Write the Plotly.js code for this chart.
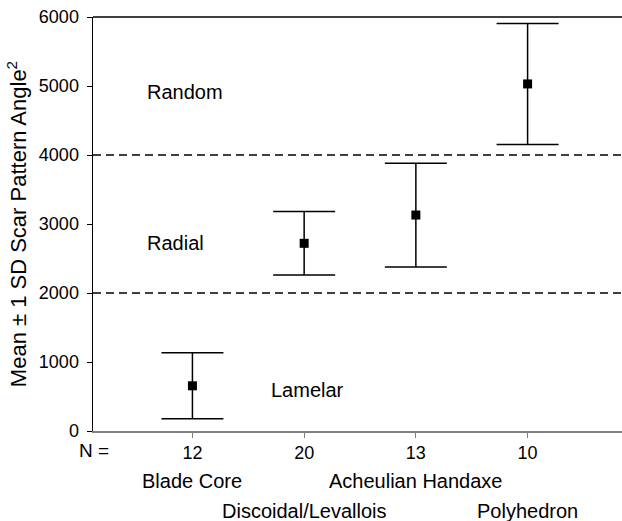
<!DOCTYPE html>
<html>
<head>
<meta charset="utf-8">
<script src="https://cdn.plot.ly/plotly-3.0.1.min.js"></script>
<style>html,body{margin:0;padding:0;background:#fff;}#chart{width:622px;height:521px;}</style>
</head>
<body>
<div id="chart"></div>
<script>
const categories = ["Blade Core", "Discoidal/Levallois", "Acheulian Handaxe", "Polyhedron"];
const positions = [1, 2, 3, 4];
const nValues = ["12", "20", "13", "10"];
const means = [655, 2720, 3130, 5030];
const sds = [478, 460, 752, 877];
const yTicks = [0, 1000, 2000, 3000, 4000, 5000, 6000];
const boundaries = [2000, 4000];
const zoneLabels = ["Random", "Radial", "Lamelar"];
const zoneX = [0.93, 0.85, 2.03];
const zoneY = [4910, 2725, 595];
const labelRow = [0, 1, 0, 1];

const FONT = "Liberation Sans, Arial, sans-serif";

const trace = {
  x: positions,
  y: means,
  type: "scatter",
  mode: "markers",
  marker: {symbol: "square", size: 9, color: "#000"},
  error_y: {type: "data", array: sds, visible: true, color: "#000", thickness: 1.5, width: 31},
  showlegend: false,
  hoverinfo: "skip"
};

const shapes = boundaries.map(v => ({
  type: "line", xref: "paper", yref: "y", x0: 0, x1: 1, y0: v, y1: v,
  line: {color: "#000", width: 1.5, dash: "8px,5px"}
}));
shapes.push({type: "line", xref: "paper", yref: "paper", x0: 0, x1: 1, y0: 1, y1: 1,
  line: {color: "#000", width: 1.5}});

const annotations = zoneLabels.map((t, i) => ({
  text: t, x: zoneX[i], y: zoneY[i], xref: "x", yref: "y",
  showarrow: false, font: {family: FONT, size: 20, color: "#000"}
}));
categories.forEach((c, i) => {
  annotations.push({
    text: c, x: positions[i], xref: "x", y: 0, yref: "paper",
    yanchor: "middle", yshift: -50 - 29.5 * labelRow[i],
    showarrow: false, font: {family: FONT, size: 20, color: "#000"}
  });
});
annotations.push({
  text: "N =", x: (94 - 93.3) / (622 - 93.3), xref: "paper", xanchor: "center", y: 0, yref: "paper",
  yanchor: "middle", yshift: -19, showarrow: false,
  font: {family: FONT, size: 19, color: "#000"}
});

const layout = {
  width: 622, height: 521,
  margin: {l: 93, r: 0, t: 17, b: 90},
  paper_bgcolor: "#fff", plot_bgcolor: "#fff",
  font: {family: FONT, color: "#000"},
  xaxis: {
    range: [0.11, 4.845], tickvals: positions, ticktext: nValues,
    showgrid: false, zeroline: false, showline: true, linecolor: "#808080", linewidth: 1.5,
    ticks: "outside", ticklen: 5, tickcolor: "#808080", tickwidth: 1,
    tickfont: {family: FONT, size: 18, color: "#000"}, fixedrange: true
  },
  yaxis: {
    range: [0, 6000], tickvals: yTicks,
    showgrid: false, zeroline: false, showline: true, linecolor: "#000", linewidth: 1.5,
    ticks: "outside", ticklen: 5, tickcolor: "#000", tickwidth: 1,
    tickfont: {family: FONT, size: 18, color: "#000"}, ticklabelstandoff: 4,
    title: {text: "Mean ± 1 SD Scar Pattern Angle<sup>2</sup>", font: {family: FONT, size: 22, color: "#000"}, standoff: 6},
    fixedrange: true
  },
  shapes: shapes,
  annotations: annotations
};

Plotly.newPlot("chart", [trace], layout, {displayModeBar: false, staticPlot: true});
</script>
</body>
</html>
